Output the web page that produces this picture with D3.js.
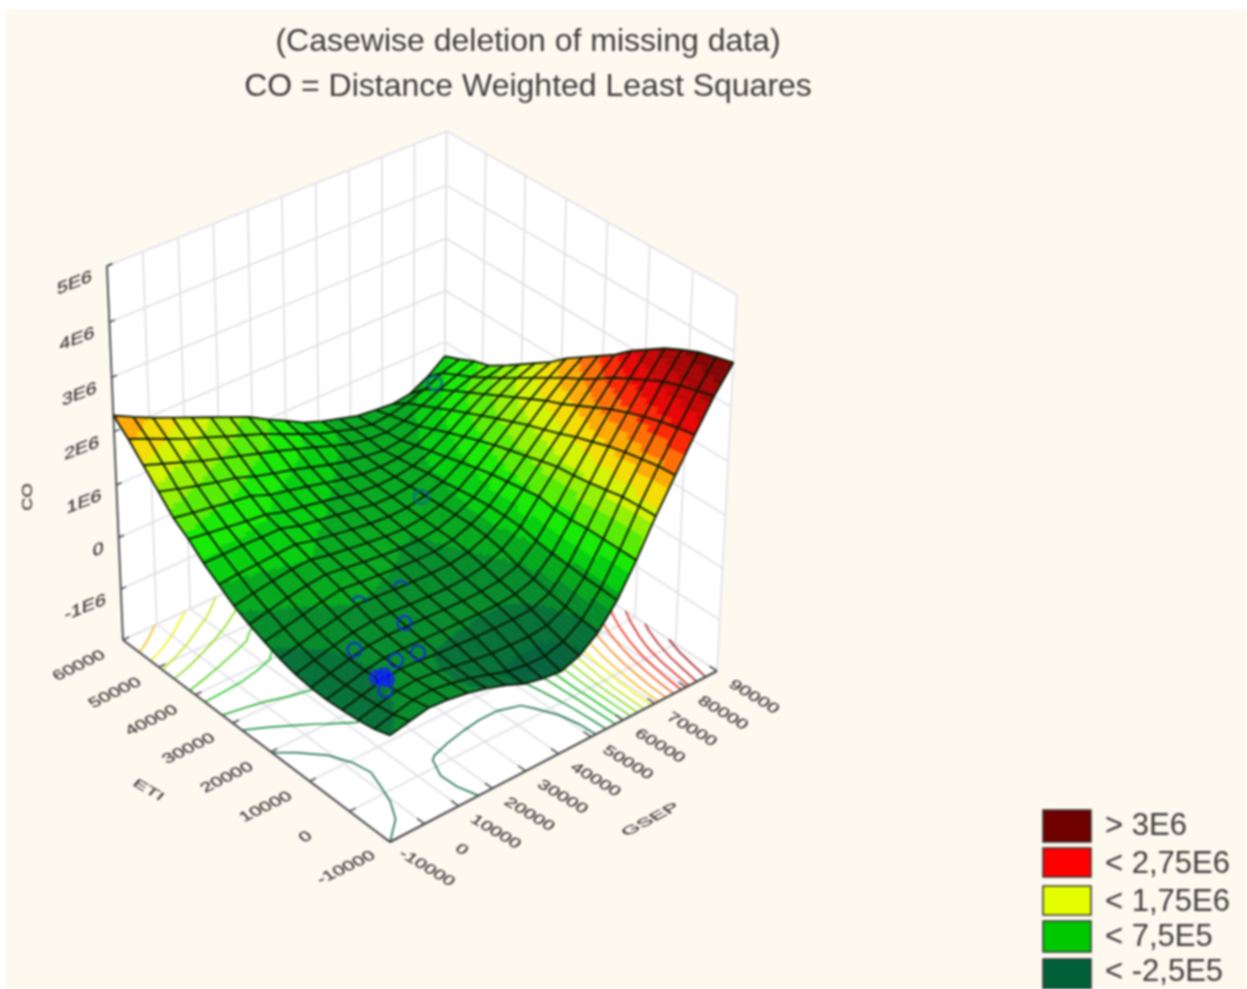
<!DOCTYPE html>
<html><head><meta charset="utf-8">
<script src="https://cdn.jsdelivr.net/npm/d3@7"></script>
<style>html,body{margin:0;padding:0;background:#fff}svg{display:block;filter:blur(0.8px)}text{font-family:"Liberation Sans",Arial,sans-serif;fill:#3c3c3c}.tk{stroke:#3c3c3c;stroke-width:.25px}</style>
</head><body><div id="c"></div>
<script>
const titleLines=["(Casewise deletion of missing data)","CO = Distance Weighted Least Squares"];
const gsepTicks=d3.range(-10000,90001,10000), etiTicks=d3.range(-10000,60001,10000), coTicks=[-1e6,0,1e6,2e6,3e6,4e6,5e6];
const coLabels=["-1E6","0","1E6","2E6","3E6","4E6","5E6"];
const legendLabels=["> 3E6","< 2,75E6","< 1,75E6","< 7,5E5","< -2,5E5"];
const legendColors=["#6e0000","#ff0000","#e6ff00","#00c800","#006038"];
// CO surface in units of 1E5: rows are ETI steps (low to high), columns GSEP steps (low to high)
const zRows=[
[0,.8,1.5,1.2,.6,-.3,-1.5,-3,-3.8,-4.2,-3,-.3,4,9.8,16.3,22.2,28,33.5,38],
[-1,-.1,.8,.9,.3,-.5,-1.6,-2.8,-3.3,-3.4,-2.4,0,4.2,9.8,16.2,22,27.4,32.6,37.2],
[-1.5,-.6,.3,.6,.2,-.4,-1,-1.5,-1.7,-1.8,-1.4,.4,4.3,9.8,16,21.4,26.7,31.8,36.3],
[-1.8,-.9,0,.5,.3,-.1,-.3,-.5,-.6,-.6,-.4,1,4.6,9.8,15.4,20.8,25.8,30.7,35],
[-2,-1.1,-.2,.5,.5,.4,.3,.2,.1,.1,.4,1.6,4.8,9.5,14.8,20,24.7,29.2,33.5],
[-1.9,-1,-.1,.7,.9,.8,.7,.6,.5,.6,1,2.2,5.2,9.5,14.3,19,23.5,27.6,31.5],
[-1.5,-.6,.3,1.1,1.5,1.4,1.2,1,.9,1.1,1.7,3.2,5.9,10,14,18,22,26,29.5],
[-.7,.2,1,1.8,2.5,2.3,2,1.8,1.7,1.8,2.4,3.8,6,9.5,13.2,16.8,20.5,24,27],
[.4,1.2,2,2.8,3.4,3,2.7,2.4,2.2,2.2,2.8,4.1,6,9,12.3,15.7,19,22.2,25],
[1.6,2.4,3.2,3.8,4.2,3.7,3.2,2.8,2.5,2.4,2.9,4,5.7,8.5,11.5,14.7,17.8,20.6,23],
[3,3.7,4.3,4.8,5,4.2,3.7,3.2,2.8,2.6,3,3.9,5.3,7.8,10.6,13.5,16.3,18.8,21],
[5,5.3,5.5,5.7,5.9,5,4.4,3.8,3.3,3,3.1,3.8,4.9,7,9.6,12.3,14.8,17,18.5],
[7,7,7,6.9,6.9,5.8,5.2,4.6,4,3.4,3.3,3.7,4.6,6.2,8.5,11,13.3,15.2,16.5],
[9.5,9,8.5,8,7.6,6.5,5.9,5.2,4.5,3.8,3.5,3.6,4.1,5.4,7.4,9.7,11.8,13.4,14.5],
[11.5,10.9,10.3,9.7,9.2,7.8,7,6.2,5.3,4.4,3.8,3.6,3.8,4.6,6.2,8.4,10.3,11.7,12.5],
[14.5,13.4,12.4,11.5,10.7,9.4,8.4,7.5,6.4,5.3,4.4,3.8,3.4,3.8,5,7,8.8,10,10.7],
[17.5,16.2,14.9,13.6,12.5,11.4,10.3,9.2,8,6.8,5.5,4.4,3.7,3.5,4.2,5.6,7.2,8.6,9.8],
[20.5,19,17.4,15.9,14.6,13.2,11.9,10.6,9,7.5,6,4.9,3.8,3.2,3.5,4.3,5.5,7.2,8.4],
[23,21.2,19.5,18,16.5,15,13.5,12,10,8.2,6.3,5,4,3,2.6,2.3,2.8,4.6,7.2]];
const N=zRows.length;
const pointsGsep=[80000,46500,28200,17400,20700,15700,5400,10000,3500,3000,4000,3800,2600,4400,1000];
const pointsEti=[54400,29900,19650,21080,12400,4900,11900,5500,3200,3600,2900,2500,3900,3700,430];
const pointsCo=[7.2e5,6.3e5,-.5e5,-.8e5,-1e5,-1e5,-1e5,-1e5,-1e5,-1e5,-1e5,-1e5,-1e5,-1e5,-1e5];
const pointsSolid=[0,0,0,0,0,0,0,0,1,0,0,0,0,0,0];
const pointsPartial=[0,0,1,1,0,0,0,0,0,0,0,0,0,0,0];

const W=1247,H=989;
const svg=d3.select("#c").append("svg").attr("width",W).attr("height",H);
svg.append("rect").attr("x",6).attr("y",10).attr("width",W).attr("height",H).attr("fill","#fef9ef");

const uS=d3.scaleLinear().domain([-10000,90000]).range([0,1]);
const vS=d3.scaleLinear().domain([-10000,60000]).range([0,1]);
const wS=d3.scaleLinear().domain([-2e6,5e6]).range([0,1]);
const F=[390,842],R=[717,671],L=[123,640],VP=[389,6845],a=1.064,b=1.0747,dw=-0.0611;
function proj(g,e,c){const u=uS(g),v=vS(e),w=wS(c);
 const hx=F[0]+u*(a*R[0]-F[0])+v*(b*L[0]-F[0])+w*dw*VP[0];
 const hy=F[1]+u*(a*R[1]-F[1])+v*(b*L[1]-F[1])+w*dw*VP[1];
 const hw=1+u*(a-1)+v*(b-1)+w*dw; return [hx/hw,hy/hw];}
const line=d3.line();
const gMin=-10000,gMax=90000,eMin=-10000,eMax=60000,cMin=-2e6,cMax=5e6;
const g0=svg.append("g");
function poly(pts,fill){g0.append("path").attr("d",line(pts)+"Z").attr("fill",fill);}
poly([proj(gMin,eMax,cMin),proj(gMin,eMax,cMax),proj(gMax,eMax,cMax),proj(gMax,eMax,cMin)],"#fff");
poly([proj(gMax,eMax,cMin),proj(gMax,eMax,cMax),proj(gMax,eMin,cMax),proj(gMax,eMin,cMin)],"#fff");
poly([proj(gMin,eMin,cMin),proj(gMin,eMax,cMin),proj(gMax,eMax,cMin),proj(gMax,eMin,cMin)],"#fff");
const gridC="#e2e2e8";
function gl(p,q,col,w){g0.append("path").attr("d",line([p,q])).attr("stroke",col||gridC).attr("stroke-width",w||1.8).attr("fill","none");}
gsepTicks.forEach(t=>{gl(proj(t,eMax,cMin),proj(t,eMax,cMax));gl(proj(t,eMin,cMin),proj(t,eMax,cMin));});
etiTicks.forEach(t=>{gl(proj(gMax,t,cMin),proj(gMax,t,cMax));gl(proj(gMin,t,cMin),proj(gMax,t,cMin));});
[-2e6].concat(coTicks).forEach(t=>{gl(proj(gMin,eMax,t),proj(gMax,eMax,t));gl(proj(gMax,eMax,t),proj(gMax,eMin,t));});
const pal=d3.scaleLinear().domain([-2.5e5,3e5,8e5,1.75e6,2.25e6,2.75e6,3.75e6]).range(["#00603a","#009a1e","#00e800","#f2f500","#ff9000","#f80000","#700000"]).clamp(true);
const step=2.5e5;
const zOf=(i,j)=>zRows[j][i]*1e5;
const gS=i=>gMin+(gMax-gMin)*i/(N-1), eS=j=>eMin+(eMax-eMin)*j/(N-1);
const flat=[];for(let j=0;j<N;j++)for(let i=0;i<N;i++)flat.push(zOf(i,j));
const levels=d3.range(0,3.76e6,step);
const cont=d3.contours().size([N,N]).thresholds(levels)(flat);
const gc=svg.append("g");
const palC=d3.scaleLinear().domain([0,7.5e5,1.75e6,2.75e6,3.75e6]).range(["#006038","#10c010","#f0f000","#f01000","#700000"]);
cont.forEach(c=>{c.coordinates.forEach(polyg=>polyg.forEach(ring=>{
 const P=ring.map(p=>[Math.min(1,Math.max(0,(p[0]-.5)/(N-1))),Math.min(1,Math.max(0,(p[1]-.5)/(N-1)))]);
 const onB=p=>p[0]<=1e-6||p[0]>=1-1e-6||p[1]<=1e-6||p[1]>=1-1e-6;
 let seg=[];const segs=[];
 for(let k=0;k<P.length-1;k++){ if(onB(P[k])&&onB(P[k+1])){if(seg.length)segs.push(seg);seg=[];} else {if(!seg.length)seg.push(P[k]);seg.push(P[k+1]);}}
 if(seg.length)segs.push(seg);
 segs.forEach(s=>gc.append("path").attr("d",line(s.map(p=>proj(gMin+p[0]*(gMax-gMin),eMin+p[1]*(eMax-eMin),cMin)))).attr("fill","none").attr("stroke",palC(c.value)).attr("stroke-opacity",.85).attr("stroke-width",1.7));
}));});
const axC="#454545";
function ax(p,q,w){svg.append("path").attr("d",line([p,q])).attr("stroke",axC).attr("stroke-width",w||2).attr("fill","none");}
ax(proj(gMin,eMin,cMin),proj(gMin,eMax,cMin));ax(proj(gMin,eMin,cMin),proj(gMax,eMin,cMin));ax(proj(gMin,eMax,cMin),proj(gMin,eMax,cMax),1.8);
gsepTicks.forEach(t=>ax(proj(t,eMin,cMin),proj(t,eMin+1800,cMin),1.5));
etiTicks.forEach(t=>ax(proj(gMin,t,cMin),proj(gMin+1800,t,cMin),1.5));
coTicks.forEach(t=>ax(proj(gMin,eMax,t),proj(gMin+1500,eMax,t),1.5));
ax(proj(gMin,eMax,cMax),proj(gMin+1500,eMax,cMax),1.5);
function tl(txt,x,y,m,anchor,fs){svg.append("text").attr("class","tk").attr("transform",`matrix(${m[0]},${m[1]},${m[2]},${m[3]},${x},${y})`).attr("text-anchor",anchor||"middle").attr("font-size",fs||14).text(txt);}
const mE=[1.27,-.62,.72,.82],mG=[1.2,.72,-.72,.78];
etiTicks.forEach(t=>{const p=proj(gMin,t,cMin);tl(String(t),p[0]-41,p[1]+29,mE);});
gsepTicks.forEach(t=>{const p=proj(t,eMin,cMin);tl(String(t),p[0]+34,p[1]+29,mG);});
coTicks.forEach((t,i)=>{const p=proj(gMin,eMax,t);tl(coLabels[i],p[0]-15,p[1]+15,[1.4,-.55,0,1.2],"end");});
tl("ETI",146,793,[1.3,.75,-.6,.7]);
tl("GSEP",654,822,[1.4,-.75,.8,.6]);
tl("CO",32,497,[0,-1.3,1.1,0]);
const gs=svg.append("g");
const SUB=6;
function bil(i,j,s,t){const z00=zOf(i,j),z10=zOf(i+1,j),z01=zOf(i,j+1),z11=zOf(i+1,j+1);
 return (1-s)*(1-t)*z00+s*(1-t)*z10+(1-s)*t*z01+s*t*z11;}
function pt(i,j,s,t){return proj(gS(i+s),eS(j+t),bil(i,j,s,t));}
const bandColor=z=>pal(Math.floor(z/step)*step+step/2);
for(let j=N-2;j>=0;j--)for(let i=N-2;i>=0;i--){
 for(let sj=0;sj<SUB;sj++)for(let si=0;si<SUB;si++){
  const s0=si/SUB,s1=(si+1)/SUB,t0=sj/SUB,t1=(sj+1)/SUB;
  const col=bandColor(bil(i,j,(s0+s1)/2,(t0+t1)/2));
  gs.append("path").attr("d",line([pt(i,j,s0,t0),pt(i,j,s1,t0),pt(i,j,s1,t1),pt(i,j,s0,t1)])+"Z").attr("fill",col).attr("stroke",col).attr("stroke-width",.4);
 }
}
const gm=svg.append("g");
const meshC="#0a1a05",meshW=1.9;
for(let j=0;j<N;j++)gm.append("path").attr("d",line(d3.range(N).map(i=>proj(gS(i),eS(j),zOf(i,j))))).attr("fill","none").attr("stroke",meshC).attr("stroke-width",meshW);
for(let i=0;i<N;i++)gm.append("path").attr("d",line(d3.range(N).map(j=>proj(gS(i),eS(j),zOf(i,j))))).attr("fill","none").attr("stroke",meshC).attr("stroke-width",meshW);
const gp=svg.append("g");
const ptR=7,circ=2*Math.PI*ptR;
pointsGsep.forEach((g,k)=>{const p=proj(g,pointsEti[k],pointsCo[k]);
 const col=pointsCo[k]>1e5?"#0a6a90":(pointsSolid[k]?"#0000ff":"#1030d8");
 const c=gp.append("circle").attr("cx",p[0]).attr("cy",p[1]).attr("r",ptR).attr("fill",pointsSolid[k]?"#0000ff":"none").attr("stroke",col).attr("stroke-width",2);
 if(pointsPartial[k]) c.attr("stroke-dasharray",`${.42*circ} ${.58*circ}`).attr("transform",`rotate(190 ${p[0]} ${p[1]})`);
});
titleLines.forEach((t,i)=>svg.append("text").attr("x",528).attr("y",51+i*45).attr("text-anchor","middle").attr("font-size",32).text(t));
const ly=[810,848,886,921,959],lh=[32,29,29,31,30],lb=[835,873,911,946,981];
legendLabels.forEach((t,i)=>{svg.append("rect").attr("x",1043).attr("y",ly[i]).attr("width",48).attr("height",lh[i]).attr("fill",legendColors[i]).attr("stroke","#333").attr("stroke-width",1.5);
 svg.append("text").attr("x",1105).attr("y",lb[i]).attr("font-size",31).text(t);});
</script></body></html>
